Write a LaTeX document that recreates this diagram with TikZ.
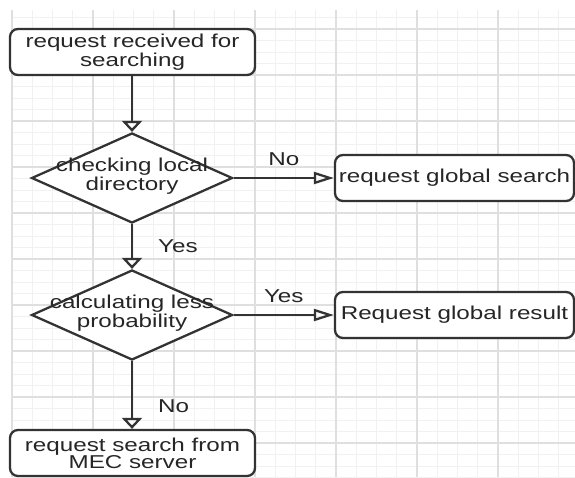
\documentclass[tikz,border=0pt]{standalone}
\usepackage{fontspec}
\setmainfont[FakeStretch=1.3]{Liberation Sans}
\usetikzlibrary{shapes.geometric,arrows.meta}

\newcommand{\flowfont}{\fontsize{10.6}{9.8}\selectfont}

\tikzset{
  flowbox/.style={draw=black!80, line width=1.3pt, rounded corners=4.5pt, fill=white,
    minimum width=4.9cm, minimum height=0.92cm, inner sep=0pt, align=center,
    text=black!85, font=\flowfont},
  decision/.style={diamond, draw=black!80, line width=1.3pt, fill=white,
    minimum width=4.02cm, minimum height=1.8cm, inner sep=0pt},
  flowtext/.style={align=center, text=black!85, font=\flowfont, inner sep=0pt},
  flowline/.style={draw=black!80, line width=1.3pt},
  varrow/.style={-{Triangle[open, length=0.22cm, width=0.4cm]}},
  harrow/.style={-{Triangle[open, length=0.4cm, width=0.24cm]}},
  edgelabel/.style={text=black!85, font=\flowfont, inner sep=0pt},
  minorgrid/.style={draw=gray!11, line width=0.4pt},
  majorgrid/.style={draw=gray!25, line width=0.6pt}
}

\begin{document}
\begin{tikzpicture}[x=0.02cm, y=-0.02cm]
\useasboundingbox (0,0) rectangle (575,477);
\fill[white] (0,0) rectangle (575,477);

% Column and row positions
\def\colL{132.5}
\def\colR{454.5}
\def\rowa{52}
\def\rowb{178}
\def\rowc{315}
\def\rowd{453}

% Background grid
\foreach \gx in {0,...,27} \draw[minorgrid] ({12+\gx*20.25},10) -- ({12+\gx*20.25},477);
\foreach \gy in {-1,...,39} \draw[minorgrid] (12,{29+\gy*11.5}) -- (575,{29+\gy*11.5});
\foreach \gx in {0,...,6} \draw[majorgrid] ({12+\gx*81},10) -- ({12+\gx*81},477);
\foreach \gy in {0,...,9} \draw[majorgrid] (12,{29+\gy*46}) -- (575,{29+\gy*46});

% Boxes
\node[flowbox] (received) at (\colL,\rowa) {request received for\\searching};
\node[decision] (local) at (132,\rowb) {};
\node[flowtext] (local text) at (132,176) {checking local\\directory};
\node[flowbox, minimum width=4.78cm] (global search) at (\colR,\rowb) {request global search};
\node[decision] (prob) at (132,\rowc) {};
\node[flowtext] (prob text) at (132,313) {calculating less\\probability};
\node[flowbox, minimum width=4.78cm] (global result) at (\colR,\rowc) {Request global result};
\node[flowbox] (mec) at (\colL,\rowd) {request search from\\MEC server};

% Connectors
\draw[flowline, varrow] (received.south -| local.north) -- (local.north);
\draw[flowline, harrow] (local.east) -- (global search.west)
  node[edgelabel, midway, above=0.22cm] (no a) {No};
\draw[flowline, varrow] (local.south) -- (prob.north)
  node[edgelabel, midway, right=0.5cm] (yes a) {Yes};
\draw[flowline, harrow] (prob.east) -- (global result.west)
  node[edgelabel, midway, above=0.22cm] (yes b) {Yes};
\draw[flowline, varrow] (prob.south) -- (prob.south |- mec.north)
  node[edgelabel, pos=0.66, right=0.5cm] (no b) {No};
\end{tikzpicture}
\end{document}
